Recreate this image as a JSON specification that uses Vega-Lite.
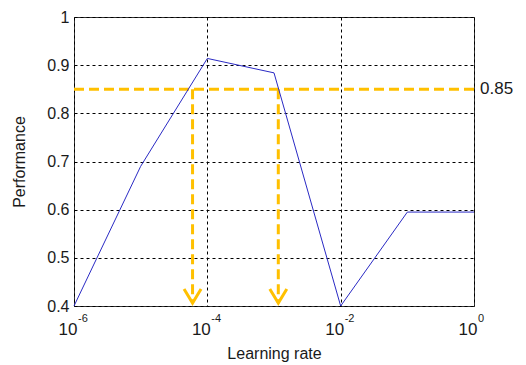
{
  "$schema": "https://vega.github.io/schema/vega-lite/v6.json",
  "width": 400,
  "height": 289,
  "autosize": {"type": "none"},
  "padding": {"left": 74, "top": 17, "right": 52, "bottom": 59},
  "background": "white",
  "config": {
    "view": {"stroke": "#333333", "strokeWidth": 1},
    "font": "Liberation Sans",
    "axis": {
      "domain": false,
      "ticks": false,
      "grid": true,
      "gridColor": "#000000",
      "gridDash": [3, 3],
      "gridWidth": 1,
      "gridOpacity": 1,
      "labelColor": "#1a1a1a",
      "titleColor": "#1a1a1a",
      "labelFont": "Liberation Sans",
      "titleFont": "Liberation Sans",
      "titleFontWeight": "normal"
    }
  },
  "datasets": {
    "perf": [
      {"lr": 0.000001, "perf": 0.4},
      {"lr": 0.00001, "perf": 0.69},
      {"lr": 0.0001, "perf": 0.914},
      {"lr": 0.001, "perf": 0.884},
      {"lr": 0.01, "perf": 0.4},
      {"lr": 0.1, "perf": 0.595},
      {"lr": 1, "perf": 0.595}
    ],
    "threshold": [{"level": 0.85, "label": "0.85", "lr": 1}],
    "arrows": [
      {"lr": 0.00006, "top": 0.85, "tip": 0.406},
      {"lr": 0.00116, "top": 0.85, "tip": 0.406}
    ],
    "exponents": [
      {"lr": 0.000001, "base": 0.4, "exp": "-6"},
      {"lr": 0.0001, "base": 0.4, "exp": "-4"},
      {"lr": 0.01, "base": 0.4, "exp": "-2"},
      {"lr": 1, "base": 0.4, "exp": "0"}
    ]
  },
  "layer": [
    {
      "data": {"name": "threshold"},
      "mark": {"type": "rule", "color": "#FFC000", "strokeWidth": 3, "strokeDash": [10, 5]},
      "encoding": {
        "y": {"field": "level", "type": "quantitative", "scale": {"domain": [0.4, 1]}}
      }
    },
    {
      "data": {"name": "arrows"},
      "mark": {"type": "rule", "color": "#FFC000", "strokeWidth": 3, "strokeDash": [10, 5]},
      "encoding": {
        "x": {"field": "lr", "type": "quantitative", "scale": {"type": "log", "domain": [0.000001, 1]}},
        "y": {"field": "top", "type": "quantitative"},
        "y2": {"field": "tip"}
      }
    },
    {
      "data": {"name": "arrows"},
      "mark": {"type": "point", "shape": "M-1,-1.65L0,0L1,-1.65", "filled": false, "color": "#FFC000", "strokeWidth": 3, "size": 289, "opacity": 1},
      "encoding": {
        "x": {"field": "lr", "type": "quantitative"},
        "y": {"field": "tip", "type": "quantitative"}
      }
    },
    {
      "data": {"name": "perf"},
      "mark": {"type": "line", "color": "#2a2ac4", "strokeWidth": 1},
      "encoding": {
        "x": {
          "field": "lr", "type": "quantitative",
          "scale": {"type": "log", "domain": [0.000001, 1]},
          "axis": {
            "values": [0.000001, 0.0001, 0.01, 1],
            "labelExpr": "'10'",
            "labelFontSize": 17,
            "labelFlush": false,
            "labelAlign": "right",
            "labelBaseline": "alphabetic",
            "labelPadding": 28,
            "labelOffset": 3,
            "title": "Learning rate",
            "titleFontSize": 16,
            "titlePadding": 8
          }
        },
        "y": {
          "field": "perf", "type": "quantitative",
          "scale": {"domain": [0.4, 1]},
          "axis": {
            "values": [0.4, 0.5, 0.6, 0.7, 0.8, 0.9, 1],
            "format": "~g",
            "labelFontSize": 16,
            "labelFlush": false,
            "labelPadding": 5,
            "title": "Performance",
            "titleFontSize": 16,
            "titlePadding": 19
          }
        }
      }
    },
    {
      "data": {"name": "exponents"},
      "mark": {"type": "text", "align": "left", "baseline": "alphabetic", "dx": 4, "dy": 16, "fontSize": 11, "color": "#1a1a1a"},
      "encoding": {
        "x": {"field": "lr", "type": "quantitative"},
        "y": {"field": "base", "type": "quantitative"},
        "text": {"field": "exp"}
      }
    },
    {
      "data": {"name": "threshold"},
      "mark": {"type": "text", "align": "left", "baseline": "middle", "dx": 6, "fontSize": 17, "color": "#1a1a1a"},
      "encoding": {
        "x": {"field": "lr", "type": "quantitative"},
        "y": {"field": "level", "type": "quantitative"},
        "text": {"field": "label"}
      }
    }
  ]
}
